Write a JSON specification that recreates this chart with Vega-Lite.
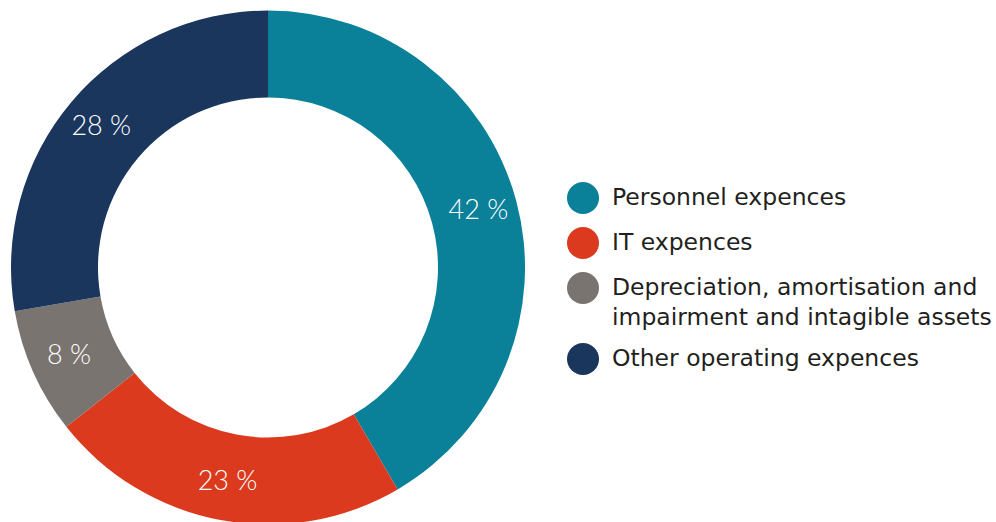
{
  "$schema": "https://vega.github.io/schema/vega-lite/v6.json",
  "width": 536,
  "height": 535,
  "padding": 0,
  "background": "white",
  "data": {
    "values": [
      {"category": "Personnel expences", "value": 42, "label": "42 %", "ord": 1},
      {"category": "IT expences", "value": 23, "label": "23 %", "ord": 2},
      {"category": "Depreciation, amortisation and impairment and intagible assets", "value": 8, "label": "8 %", "ord": 3},
      {"category": "Other operating expences", "value": 28, "label": "28 %", "ord": 4}
    ]
  },
  "encoding": {
    "theta": {"field": "value", "type": "quantitative", "stack": true},
    "order": {"field": "ord", "type": "quantitative"},
    "color": {
      "field": "category",
      "type": "nominal",
      "scale": {
        "domain": ["Personnel expences", "IT expences", "Depreciation, amortisation and impairment and intagible assets", "Other operating expences"],
        "range": ["#0a8099", "#db3a1e", "#7a7470", "#1b365d"]
      },
      "legend": {
        "title": null,
        "orient": "none",
        "legendX": 567,
        "legendY": 182,
        "symbolType": "circle",
        "symbolSize": 1024,
        "symbolStrokeWidth": 0,
        "symbolOpacity": 1,
        "labelFont": "DejaVu Sans",
        "labelFontSize": 23.5,
        "labelColor": "#231f20",
        "labelOffset": 13,
        "labelLimit": 500,
        "rowPadding": 13,
        "labelExpr": "datum.label == 'Depreciation, amortisation and impairment and intagible assets' ? ['Depreciation, amortisation and', 'impairment and intagible assets'] : datum.label",
        "encode": {
          "labels": {
            "update": {
              "lineHeight": {"value": 30},
              "dy": {"signal": "length(datum.label) > 40 ? 15 : 0"}
            }
          }
        }
      }
    }
  },
  "layer": [
    {
      "mark": {"type": "arc", "outerRadius": 257, "innerRadius": 170, "stroke": null}
    },
    {
      "mark": {"type": "text", "radius": 218, "font": "Lato", "fontWeight": 300, "fontSize": 27, "color": "white"},
      "encoding": {"text": {"field": "label", "type": "nominal"}, "color": {"value": "white"}}
    }
  ],
  "config": {"view": {"stroke": null}, "style": {"guide-label": {"lineHeight": 30}}}
}
